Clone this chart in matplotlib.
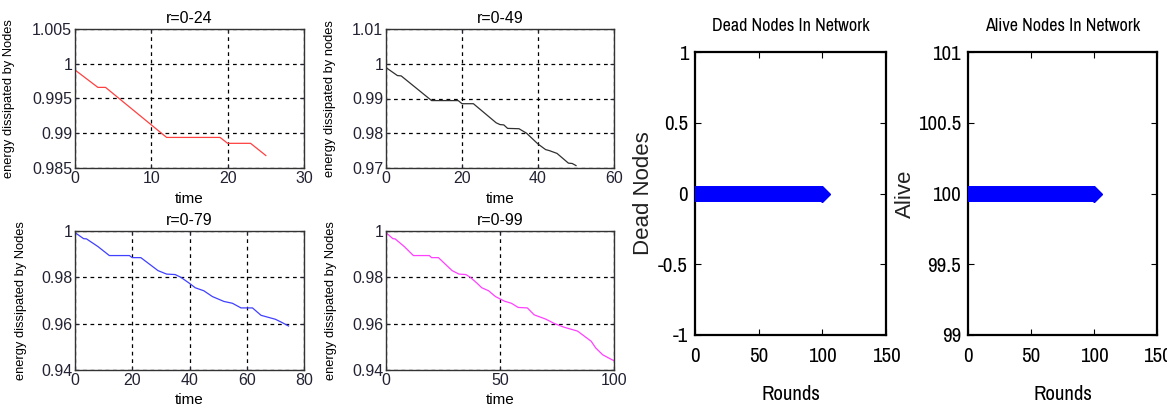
import matplotlib
matplotlib.use('Agg')
import matplotlib.pyplot as plt
from matplotlib.ticker import FuncFormatter

# energy per node vs time, four windows of the simulation
t1 = [0, 3, 4, 12, 19, 20, 23, 25]
e1 = [0.9991, 0.9966, 0.9966, 0.9894, 0.9894, 0.98855, 0.98855, 0.9868]

t2 = [0, 3, 4, 12, 19, 20, 23, 29, 30, 31, 32, 35, 37, 40, 42, 43, 45, 48, 49, 50]
e2 = [0.9989, 0.9966, 0.9965, 0.9894, 0.9894, 0.9885, 0.9885, 0.9830, 0.9825, 0.9824,
      0.9814, 0.9813, 0.9800, 0.9769, 0.9753, 0.9750, 0.9742, 0.9714, 0.9713, 0.9707]

t3 = [0, 3, 4, 8, 12, 19, 20, 23, 29, 32, 35, 37, 40, 42, 45, 48, 52, 55, 58, 62,
      65, 70, 72, 74.6]
e3 = [0.9993, 0.9967, 0.9966, 0.9933, 0.9894, 0.9894, 0.9885, 0.9885, 0.9829, 0.9814,
      0.9812, 0.9800, 0.9774, 0.9755, 0.9742, 0.9717, 0.9696, 0.9688, 0.9668, 0.9668,
      0.9636, 0.9619, 0.9607, 0.9590]

t4 = [0, 3, 4, 8, 12, 19, 20, 23, 29, 32, 35, 37, 40, 42, 45, 48, 50, 52, 55, 58,
      62, 65, 70, 74, 78, 84, 87, 90, 92, 95, 98, 100]
e4 = [0.9993, 0.9967, 0.9966, 0.9933, 0.9894, 0.9894, 0.9885, 0.9885, 0.9829, 0.9814,
      0.9812, 0.9800, 0.9774, 0.9755, 0.9742, 0.9717, 0.9707, 0.9697, 0.9688, 0.9670,
      0.9668, 0.9638, 0.9620, 0.9600, 0.9585, 0.9568, 0.9546, 0.9524, 0.9495, 0.9466,
      0.9450, 0.9440]

titles = ['r=0-24', 'r=0-49', 'r=0-79', 'r=0-99']
ylabels = ['energy dissipated by Nodes', 'energy dissipated by nodes',
           'energy dissipated by Nodes', 'energy dissipated by Nodes']
colors = ['#ff4040', '#303030', '#4040ff', '#ff40ff']
xlims = [(0, 30), (0, 60), (0, 80), (0, 100)]
xticks = [[0, 10, 20, 30], [0, 20, 40, 60], [0, 20, 40, 60, 80], [0, 50, 100]]
ylims = [(0.985, 1.005), (0.97, 1.01), (0.94, 1.0), (0.94, 1.0)]
yticks = [[0.985, 0.99, 0.995, 1.0, 1.005], [0.97, 0.98, 0.99, 1.0, 1.01],
          [0.94, 0.96, 0.98, 1.0], [0.94, 0.96, 0.98, 1.0]]

# dead / alive node counts over the rounds
rounds = [0, 100]
dead = [0, 0]
alive = [100, 100]

plt.rcParams['font.family'] = ['Liberation Sans', 'DejaVu Sans']
W, H = 1167, 407
fig = plt.figure(figsize=(W / 100, H / 100), dpi=100)


def box(l, t, r, b):
    return [l / W, 1 - b / H, (r - l) / W, (b - t) / H]


gfmt = FuncFormatter(lambda v, p: ('%g' % round(v, 6)))

boxes = [box(75, 29, 304, 168), box(386, 29, 614, 168),
         box(75, 231, 304, 370), box(386, 231, 614, 370)]
ylab_x = [-0.262, -0.22, -0.21, -0.215]
xlab_y = [-0.175, -0.175, -0.165, -0.165]
for i, (t, e) in enumerate([(t1, e1), (t2, e2), (t3, e3), (t4, e4)]):
    ax = fig.add_axes(boxes[i])
    ax.plot(t, e, color=colors[i], lw=0.9)
    ax.set_xlim(*xlims[i])
    ax.set_ylim(*ylims[i])
    ax.set_xticks(xticks[i])
    ax.set_yticks(yticks[i])
    ax.yaxis.set_major_formatter(gfmt)
    ax.grid(True, color='black', ls=(0, (3, 3)), lw=0.9)
    ax.tick_params(direction='in', labelsize=11.5, length=3, top=True, right=True,
                   pad=2, colors='#222233')
    for s in ax.spines.values():
        s.set_linewidth(1.0)
        s.set_color('#333333')
    ax.set_title(titles[i], fontsize=11.5, pad=4)
    ax.set_ylabel(ylabels[i], fontsize=9.3)
    ax.yaxis.set_label_coords(ylab_x[i], 0.5)
    ax.set_xlabel('time', fontsize=11)
    ax.xaxis.set_label_coords(0.5, xlab_y[i])

narrow = ['Archivo Narrow', 'Liberation Sans', 'DejaVu Sans']

panels = [(box(695, 52, 886, 335), dead, (-1, 1), [-1, -0.5, 0, 0.5, 1],
           'Dead Nodes In Network', 'Dead Nodes', -0.215),
          (box(968, 52, 1157, 335), alive, (99, 101), [99, 99.5, 100, 100.5, 101],
           'Alive Nodes In Network', 'Alive', -0.275)]
for b, vals, yl, yt, title, ylab, lx in panels:
    ax = fig.add_axes(b)
    ax.plot(rounds, vals, color='#0000ff', lw=11.5, solid_capstyle='butt', clip_on=False,
            marker='D', markersize=8, markevery=[1], zorder=3)
    ax.set_xlim(0, 150)
    ax.set_ylim(*yl)
    ax.set_xticks([0, 50, 100, 150])
    ax.set_yticks(yt)
    ax.yaxis.set_major_formatter(gfmt)
    ax.tick_params(direction='in', length=4, top=True, right=True, pad=5, labelsize=15)
    ax.tick_params(axis='x', pad=9)
    for lab in ax.get_xticklabels() + ax.get_yticklabels():
        lab.set_family(narrow)
    for s in ax.spines.values():
        s.set_linewidth(1.6)
    ax.set_title(title, fontsize=13, family=narrow, pad=15)
    ax.set_xlabel('Rounds', fontsize=15, family=narrow)
    ax.xaxis.set_label_coords(0.5, -0.175)
    ax.set_ylabel(ylab, fontsize=16, color='#222222')
    ax.yaxis.set_label_coords(lx, 0.5)

plt.savefig('out.png', dpi=100)
print("Imagem salva")
